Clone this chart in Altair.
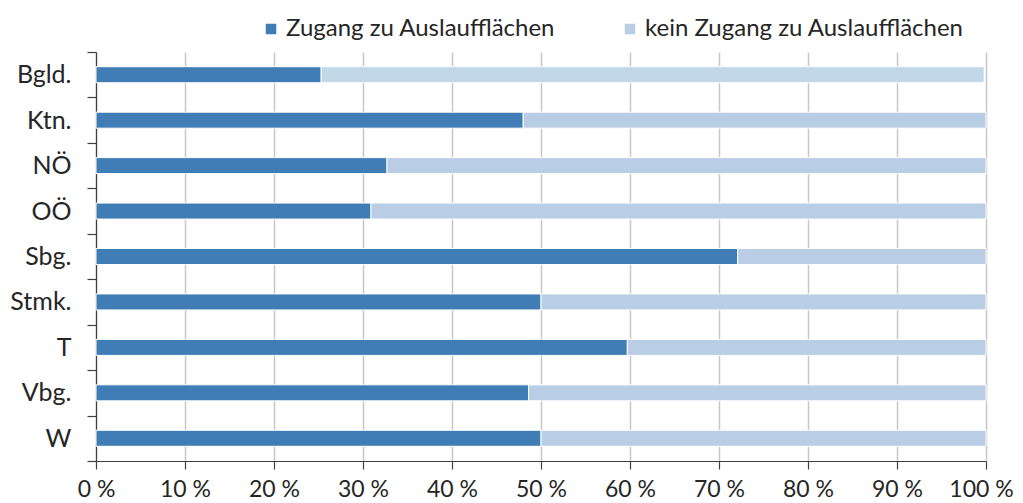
import altair as alt
import pandas as pd

regions = ["Bgld.", "Ktn.", "NÖ", "OÖ", "Sbg.", "Stmk.", "T", "Vbg.", "W"]
series = ["Zugang zu Auslaufflächen", "kein Zugang zu Auslaufflächen"]
zugang = [25.3, 48.0, 32.7, 30.9, 72.1, 50.0, 59.7, 48.6, 50.0]
kein = [74.5, 52.0, 67.3, 69.1, 27.9, 50.0, 40.3, 51.4, 50.0]
x_ticks = [0, 10, 20, 30, 40, 50, 60, 70, 80, 90, 100]

rows = []
for r, a, b in zip(regions, zugang, kein):
    rows.append({"region": r, "series": series[0], "value": a, "ord": 0})
    rows.append({"region": r, "series": series[1], "value": b, "ord": 1})
df = pd.DataFrame(rows)

FONT = "Lato"
TXT = "#262626"

chart = alt.Chart(df).mark_bar(stroke="white", strokeWidth=1, size=16).encode(
    y=alt.Y("region:N", sort=regions,
            scale=alt.Scale(paddingInner=0, paddingOuter=0),
            axis=alt.Axis(title=None, tickBand="extent", tickSize=9,
                          labelPadding=16, domainColor="#404040", tickColor="#404040",
                          domainWidth=1.2, tickWidth=1.2, labelFontSize=25,
                          labelFont=FONT, labelColor=TXT, grid=False)),
    x=alt.X("value:Q", stack="zero", scale=alt.Scale(domain=[0, 100]),
            axis=alt.Axis(title=None, values=x_ticks, labelExpr="datum.value + ' %'",
                          grid=True, gridColor="#C8C8C8", gridWidth=1.5,
                          tickSize=8, labelPadding=9, domainColor="#404040",
                          tickColor="#404040", domainWidth=1.2, tickWidth=1.2,
                          labelOverlap=False, labelFlush=False,
                          labelOffset=alt.ExprRef("datum.value === 100 ? -5 : 0"),
                          labelFontSize=23, labelFont=FONT, labelColor=TXT)),
    order=alt.Order("ord:Q"),
    color=alt.condition(
        "datum.region === 'Bgld.' && datum.ord === 1",
        alt.value("#C0D8E7"),
        alt.Color("series:N", sort=series,
                  scale=alt.Scale(domain=series, range=["#417DB5", "#B9CDE5"]),
                  legend=alt.Legend(title=None, orient="none", legendX=163, legendY=-35,
                                    direction="horizontal", symbolType="square",
                                    symbolSize=110, symbolStrokeWidth=0, labelOffset=3,
                                    columnPadding=62, padding=0, labelLimit=0,
                                    labelFont=FONT, labelFontSize=24, labelColor=TXT)),
    ),
).properties(
    width=890, height=409,
    autosize=alt.AutoSizeParams(type="none"),
    padding={"left": 88, "top": 44, "right": 29, "bottom": 42},
).configure_view(stroke=None)

chart.save("out.html", embed_options={"renderer": "svg", "actions": False})
